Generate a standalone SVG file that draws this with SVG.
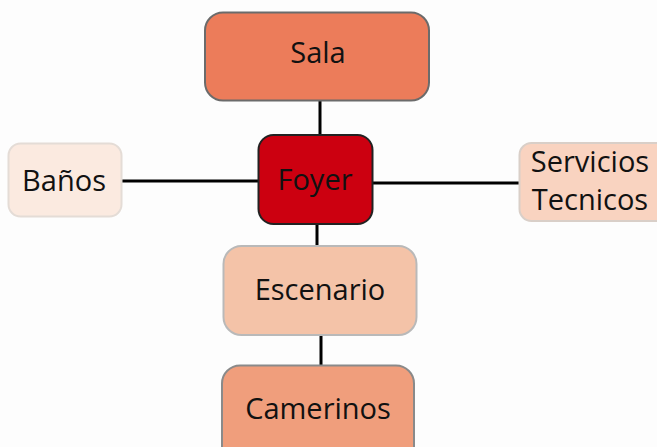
<svg xmlns="http://www.w3.org/2000/svg" width="657" height="447" viewBox="0 0 657 447">
<style>
.n{stroke-width:2}
.t{font-family:"Open Sans","Noto Sans",sans-serif;font-size:29px;fill:#111;text-anchor:middle;dominant-baseline:central}
.c line{stroke:#000;stroke-width:3}
</style>
<rect width="657" height="447" fill="#fdfdfd"/>
<g class="c" id="connectors">
<line x1="320" y1="100" x2="320" y2="136"/>
<line x1="122" y1="181" x2="259" y2="181"/>
<line x1="373" y1="183" x2="520" y2="183"/>
<line x1="317" y1="223" x2="317" y2="247"/>
<line x1="321" y1="334" x2="321" y2="366"/>
</g>
<g id="sala"><rect class="n" x="205" y="12.5" width="224" height="88" rx="18" fill="#ec7c5a" stroke="#6b6b6b"/><text class="t" x="318" y="51">Sala</text></g>
<g id="foyer"><rect class="n" x="258.5" y="135" width="114" height="89" rx="15" fill="#cc0010" stroke="#222"/><text class="t" x="315" y="178">Foyer</text></g>
<g id="banos"><rect class="n" x="8.5" y="143.5" width="113" height="73" rx="12" fill="#fbeae0" stroke="#e4dcd6"/><text class="t" x="64" y="179">Baños</text></g>
<g id="servicios"><rect class="n" x="519.5" y="143" width="150" height="78" rx="12" fill="#f9d3c0" stroke="#d9cfc8"/><text class="t" x="590" y="160">Servicios</text><text class="t" x="590" y="198">Tecnicos</text></g>
<g id="escenario"><rect class="n" x="223.5" y="246" width="193" height="89" rx="18" fill="#f4c3a8" stroke="#b9b9b9"/><text class="t" x="320" y="288">Escenario</text></g>
<g id="camerinos"><rect class="n" x="222" y="365.5" width="192" height="100" rx="18" fill="#f09e7c" stroke="#8a8a8a"/><text class="t" x="318" y="407">Camerinos</text></g>
</svg>
